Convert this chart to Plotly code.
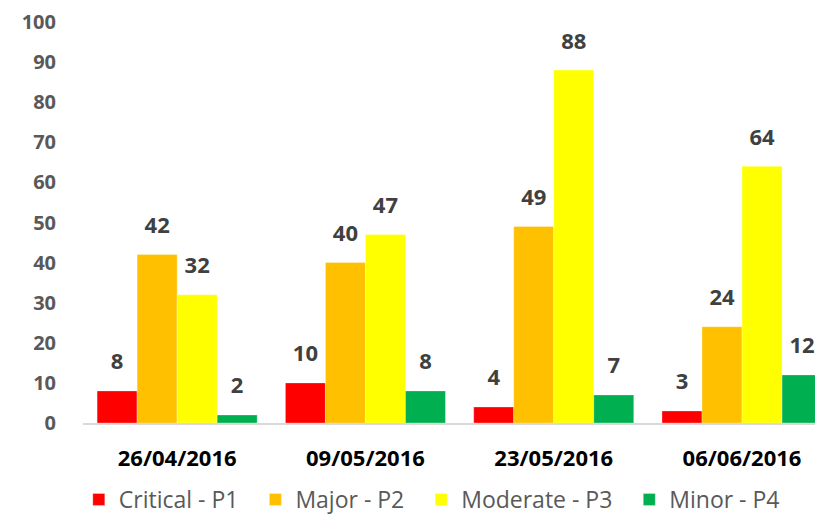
import plotly.graph_objects as go

dates = ["26/04/2016", "09/05/2016", "23/05/2016", "06/06/2016"]
critical = [8, 10, 4, 3]
major = [42, 40, 49, 24]
moderate = [32, 47, 88, 64]
minor = [2, 8, 7, 12]

series = [
    ("Critical - P1", critical, "#FF0000"),
    ("Major - P2", major, "#FFC000"),
    ("Moderate - P3", moderate, "#FFFF00"),
    ("Minor - P4", minor, "#00B050"),
]

FONT = "Open Sans"
PAD = "\u00a0\u00a0"  # a little extra room between legend entries

fig = go.Figure()
for i, (name, vals, color) in enumerate(series):
    fig.add_trace(go.Bar(
        x=dates, y=vals, name=name + (PAD if i < len(series) - 1 else ""),
        marker=dict(color=color, line=dict(color="rgba(255,255,255,0.6)", width=0.5)),
    ))
# value labels, grouped like the bars so they sit over each one
for name, vals, color in series:
    fig.add_trace(go.Scatter(
        x=dates, y=vals, mode="markers+text", showlegend=False, hoverinfo="skip",
        marker=dict(size=24, opacity=0),
        text=vals, textposition="top center", cliponaxis=False,
        textfont=dict(family=FONT, size=22, color="#404040", weight="bold"),
    ))

# the page body has an 8px margin, so the figure is shrunk by 8px and margins offset
fig.update_layout(
    width=815, height=513,
    margin=dict(l=75, r=0, t=14, b=98),
    paper_bgcolor="white", plot_bgcolor="white",
    barmode="group", bargap=0.15, bargroupgap=0,
    scattermode="group", scattergap=0.15,
    showlegend=True,
    legend=dict(
        orientation="h", x=0.520, xref="container", xanchor="center",
        y=0.0, yref="container", yanchor="bottom",
        font=dict(family=FONT, size=23, color="#595959"),
        itemwidth=30, traceorder="normal",
    ),
)

fig.update_xaxes(
    range=[-0.5, 3.43],
    showline=True, linecolor="#D9D9D9", linewidth=1.5,
    showgrid=False, ticks="", ticklabelstandoff=15,
    tickfont=dict(family=FONT, size=22, color="#000000", weight="bold"),
)
fig.update_yaxes(
    range=[0, 100], dtick=10,
    showgrid=False, zeroline=False, showline=False,
    ticks="", ticklabelstandoff=26,
    tickfont=dict(family=FONT, size=20, color="#595959", weight="bold"),
)

fig.write_html("out.html")
